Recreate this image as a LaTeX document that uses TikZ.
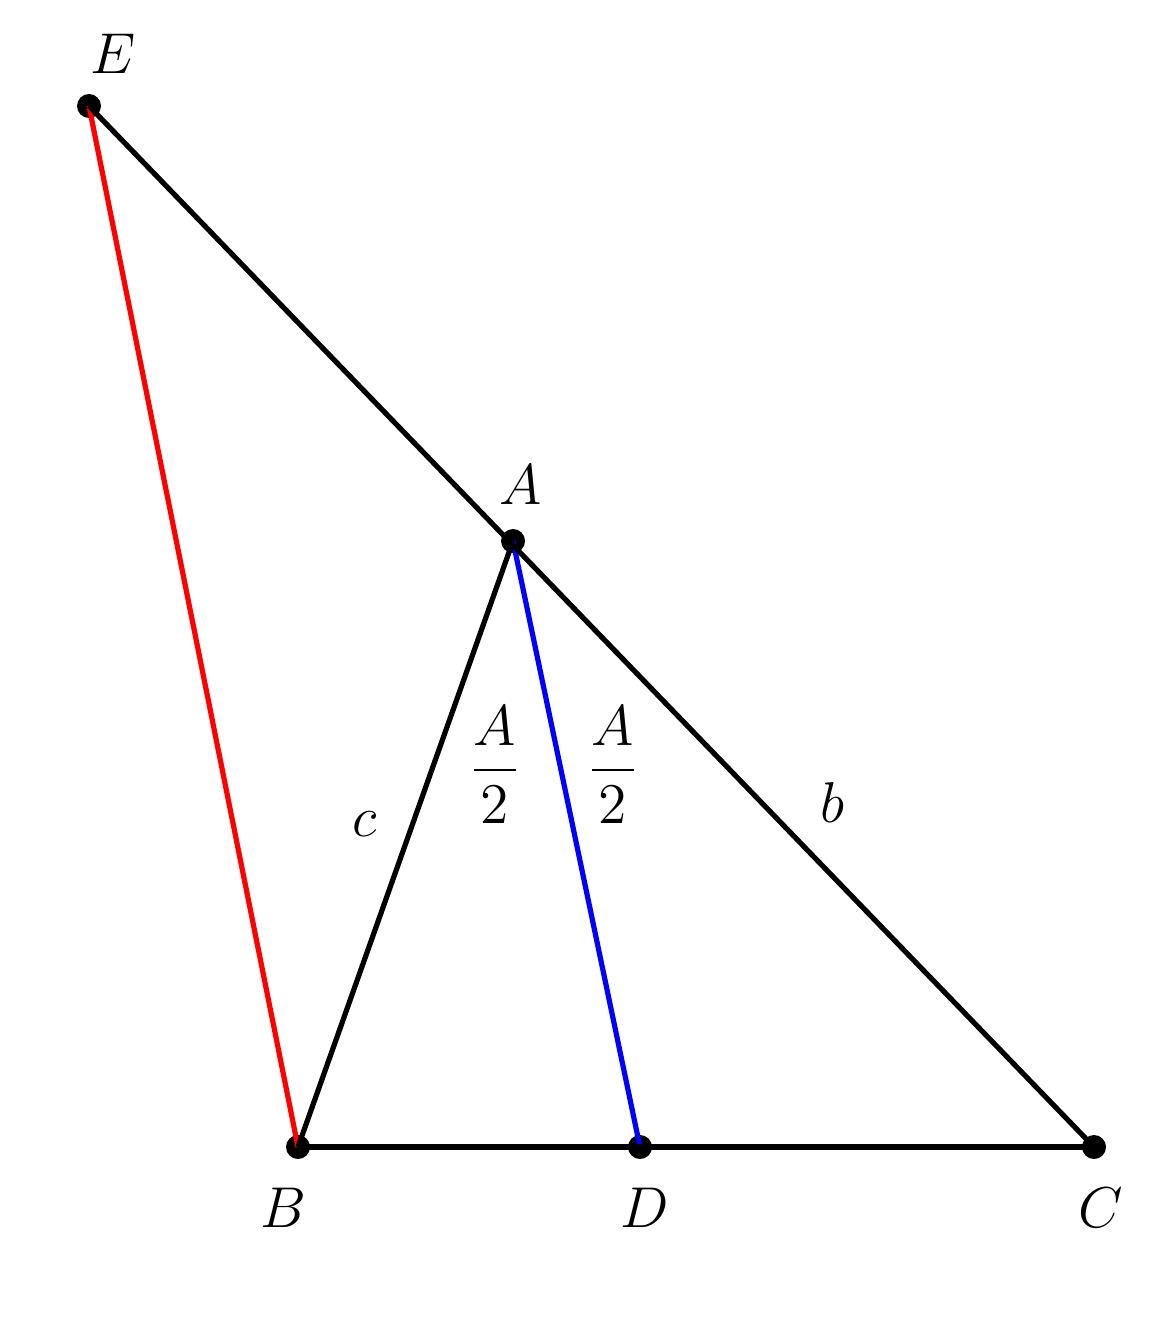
\documentclass[tikz,border=0pt]{standalone}
\usepackage{amsmath}
\begin{document}
\begin{tikzpicture}[x=0.25pt,y=-0.25pt,
  seg/.style={line width=1.3pt},
  pt/.style={circle,fill=black,inner sep=0pt,minimum size=6pt},
  lab/.style={font=\fontsize{15.5}{18}\selectfont}]
\useasboundingbox[fill=white] (0,0) rectangle (1176,1337);
\node[pt] (E) at (89,106) {};
\node[pt] (A) at (513,541) {};
\node[pt] (B) at (298,1147) {};
\node[pt] (D) at (640,1147) {};
\node[pt] (C) at (1094,1147) {};
\draw[seg,red] (E.center) -- (B.center);
\draw[seg,blue] (A.center) -- (D.center);
\draw[seg] (E.center) -- (C.center);
\draw[seg] (B.center) -- (A.center);
\draw[seg] (B.center) -- (C.center);
\node[lab] (lE) at (113,54) {$E$};
\node[lab] (lA) at (521,485) {$A$};
\node[lab] (lB) at (283,1208) {$B$};
\node[lab] (lD) at (645,1208) {$D$};
\node[lab] (lC) at (1101,1208) {$C$};
\node[lab] (lc) at (365,824) {$c$};
\node[lab] (lb) at (832,802) {$b$};
\node[lab] (h1) at (495,765) {$\dfrac{A}{2}$};
\node[lab] (h2) at (613,765) {$\dfrac{A}{2}$};
\end{tikzpicture}
\end{document}
